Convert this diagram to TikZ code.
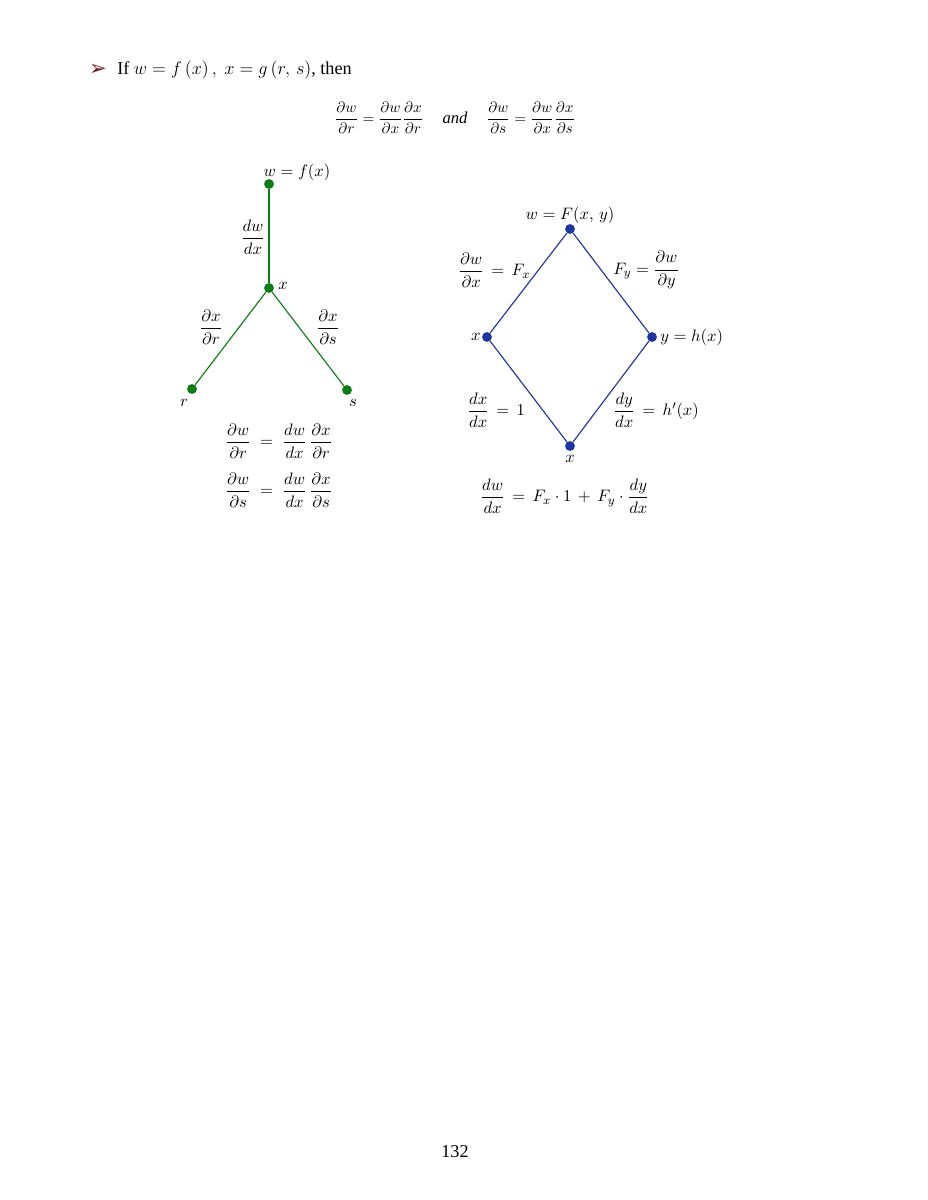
\documentclass[tikz,border=0pt]{standalone}
\usepackage{amsmath}
\usepackage{fontspec}
\setmainfont{Liberation Serif}
\newfontfamily\symfont{DejaVu Sans}
\definecolor{treegreen}{RGB}{10,125,20}
\definecolor{treeblue}{RGB}{30,55,160}
\definecolor{bulletred}{RGB}{115,30,35}
\begin{document}
\begin{tikzpicture}[x={(0.6602pt,0)},y={(0,-0.6602pt)},
  gdot/.style={circle,fill=treegreen,inner sep=0pt,minimum size=6.5pt},
  bdot/.style={circle,fill=treeblue,inner sep=0pt,minimum size=6.5pt},
  gedge/.style={treegreen,line width=0.75pt},
  bedge/.style={treeblue,line width=0.75pt},
  lbl/.style={inner sep=0pt,font=\fontsize{11}{13}\selectfont},
  txt/.style={inner sep=0pt,font=\fontsize{12}{14}\selectfont}]
\useasboundingbox[fill=white] (0,0) rectangle (927,1200);
% header
\node[inner sep=0pt,text=bulletred,font=\symfont\fontsize{14}{16}\selectfont] (bul) at (98,70) {➢};
\node[txt,anchor=base west] (hdr) at (117,75) {If $w=f\left(x\right),\ x=g\left(r,\,s\right)$, then};
\node[inner sep=0pt,font=\fontsize{10}{12}\selectfont] (eq1) at (455,118) {$\dfrac{\partial w}{\partial r}=\dfrac{\partial w}{\partial x}\dfrac{\partial x}{\partial r}\quad\ \textit{\fontsize{11}{13}\selectfont and}\quad\ \dfrac{\partial w}{\partial s}=\dfrac{\partial w}{\partial x}\dfrac{\partial x}{\partial s}$};
% green tree
\node[gdot] (w1) at (269,184) {};
\node[gdot] (x1) at (269,288) {};
\node[gdot] (r1) at (192,389) {};
\node[gdot] (s1) at (347,390) {};
\draw[gedge] (w1) -- (x1);
\draw[gedge] (x1) -- (r1);
\draw[gedge] (x1) -- (s1);
\node[lbl] (w1l) at (297,172) {$w=f(x)$};
\node[lbl] (x1l) at (283,286) {$x$};
\node[lbl] (r1l) at (184,403) {$r$};
\node[lbl] (s1l) at (353,403) {$s$};
\node[lbl] (e1) at (253,237) {$\dfrac{dw}{dx}$};
\node[lbl] (e2) at (211,327) {$\dfrac{\partial x}{\partial r}$};
\node[lbl] (e3) at (328,327) {$\dfrac{\partial x}{\partial s}$};
\node[lbl,anchor=west] (f1) at (225,441) {$\dfrac{\partial w}{\partial r}\;=\;\dfrac{dw}{dx}\,\dfrac{\partial x}{\partial r}$};
\node[lbl,anchor=west] (f2) at (225,490) {$\dfrac{\partial w}{\partial s}\;=\;\dfrac{dw}{dx}\,\dfrac{\partial x}{\partial s}$};
% blue diamond
\node[bdot] (wt) at (570,229) {};
\node[bdot] (xl) at (487,337) {};
\node[bdot] (yr) at (652,337) {};
\node[bdot] (xb) at (570,446) {};
\draw[bedge] (wt) -- (xl);
\draw[bedge] (wt) -- (yr);
\draw[bedge] (xl) -- (xb);
\draw[bedge] (yr) -- (xb);
\node[lbl] (wtl) at (570,215) {$w=F(x,\,y)$};
\node[lbl,anchor=east] (xll) at (481,337) {$x$};
\node[lbl,anchor=west] (yrl) at (660,337) {$y=h(x)$};
\node[lbl] (xbl) at (570,459) {$x$};
\node[lbl,anchor=west] (b1) at (458,270) {$\dfrac{\partial w}{\partial x}\,=\,F_x$};
\node[lbl,anchor=west] (b2) at (613,270) {$F_y=\dfrac{\partial w}{\partial y}$};
\node[lbl,anchor=west] (b3) at (467,410) {$\dfrac{dx}{dx}\,=\,1$};
\node[lbl,anchor=west] (b4) at (613,410) {$\dfrac{dy}{dx}\,=\,h'(x)$};
\node[lbl,anchor=west] (f3) at (480,496) {$\dfrac{dw}{dx}\,=\,F_x\cdot 1\,+\,F_y\cdot\dfrac{dy}{dx}$};
% page number
\node[txt] (pg) at (455,1152) {132};
\end{tikzpicture}
\end{document}
